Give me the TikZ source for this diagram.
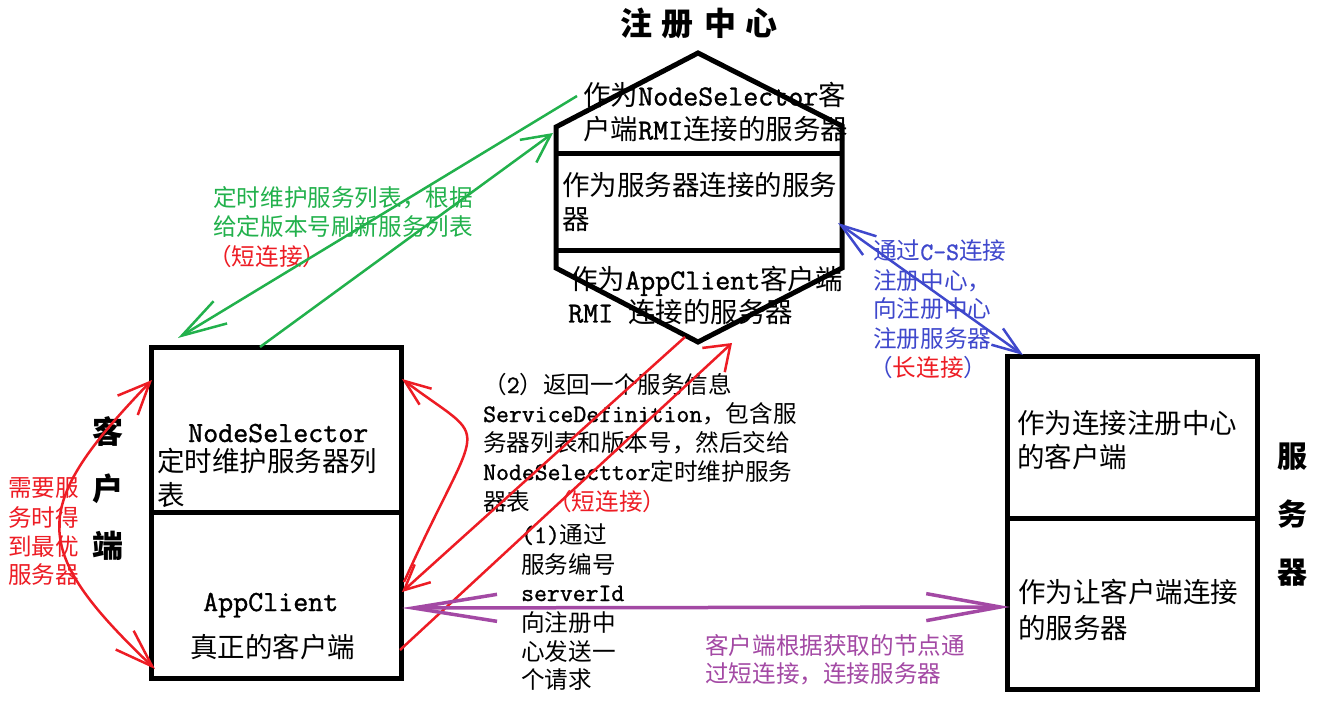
\documentclass[tikz,border=0pt]{standalone}
\usepackage{fontspec}
\setmainfont{Noto Sans CJK SC}
\newfontfamily\lat{Latin Modern Mono}[Scale=1.06,FakeBold=1.2]
\usetikzlibrary{arrows.meta}
\definecolor{pgreen}{HTML}{22B14C}
\definecolor{pred}{HTML}{ED1C24}
\definecolor{pblue}{HTML}{3F48CC}
\definecolor{ppurple}{HTML}{A349A4}
\begin{document}
\begin{tikzpicture}[x=1pt,y=-1pt,
  frame/.style={line width=5pt},
  bigtxt/.style={font=\fontsize{27.5}{33}\selectfont, inner sep=0pt, anchor=base west},
  smalltxt/.style={font=\fontsize{23.6}{29}\selectfont, inner sep=0pt, anchor=base west},
  headtxt/.style={font=\fontsize{32}{57}\selectfont\bfseries, inner sep=0pt, align=center},
  conn/.style={line width=2.5pt},
  wideconn/.style={line width=3.5pt}
]
\useasboundingbox (0,0) rectangle (1317,703);

% ---------- registry hexagon ----------
\coordinate (hT) at (698,53);
\coordinate (hUR) at (842,126);
\coordinate (hLR) at (842,268);
\coordinate (hB) at (698,342);
\coordinate (hLL) at (556,268);
\coordinate (hUL) at (556,127);
\coordinate (hd1l) at (556,154);
\coordinate (hd1r) at (844,154);
\coordinate (hd2l) at (556,251);
\coordinate (hd2r) at (844,251);
\draw[frame] (hT) -- (hUR) -- (hLR) -- (hB) -- (hLL) -- (hUL) -- cycle;
\draw[frame] (hd1l) -- (hd1r);
\draw[frame] (hd2l) -- (hd2r);

\node[headtxt] (title) at (699,23) {注\hspace{10pt}册\hspace{10pt}中\hspace{10pt}心};

\node[bigtxt] (h1) at (583,105.5) {作为{\lat NodeSelector}客};
\node[bigtxt] (h2) at (583,139.5) {户端{\lat RMI}连接的服务器};
\node[bigtxt] (h3) at (562,195.5) {作为服务器连接的服务};
\node[bigtxt] (h4) at (562,229.5) {器};
\node[bigtxt] (h5) at (570,289.5) {作为{\lat AppClient}客户端};
\node[bigtxt] (h6) at (568,322.5) {{\lat RMI }连接的服务器};

% ---------- client box ----------
\coordinate (lTL) at (151,347);
\coordinate (lBR) at (401,678);
\coordinate (ldl) at (151,512);
\coordinate (ldr) at (404,512);
\draw[frame] (lTL) rectangle (lBR);
\draw[frame] (ldl) -- (ldr);
\node[headtxt, font=\fontsize{31}{57}\selectfont\bfseries] (clientlabel) at (108,489) {客\\户\\端};
\node[bigtxt] (l1) at (188,442) {\lat NodeSelector};
\node[bigtxt] (l2) at (157,471.5) {定时维护服务器列};
\node[bigtxt] (l3) at (157,505.5) {表};
\node[bigtxt] (l4) at (203,611) {\lat AppClient};
\node[bigtxt] (l5) at (190,657.5) {真正的客户端};

% ---------- server box ----------
\coordinate (rTL) at (1007,356);
\coordinate (rBR) at (1257,689);
\coordinate (rdl) at (1007,518);
\coordinate (rdr) at (1260,518);
\draw[frame] (rTL) rectangle (rBR);
\draw[frame] (rdl) -- (rdr);
\node[headtxt, font=\fontsize{30}{58}\selectfont\bfseries] (serverlabel) at (1292,515) {服\\务\\器};
\node[bigtxt] (r1) at (1017,433.5) {作为连接注册中心};
\node[bigtxt] (r2) at (1017,467.5) {的客户端};
\node[bigtxt] (r3) at (1018,602.5) {作为让客户端连接};
\node[bigtxt] (r4) at (1018,638.5) {的服务器};

% ---------- green label ----------
\node[smalltxt, text=pgreen] (g1) at (213,207) {定时维护服务列表，根据};
\node[smalltxt, text=pgreen] (g2) at (213,236) {给定版本号刷新服务列表};
\node[smalltxt, text=pred] (g3) at (208,266) {（短连接）};

% ---------- blue label ----------
\node[smalltxt, text=pblue] (b1) at (873,260) {通过{\lat C-S}连接};
\node[smalltxt, text=pblue] (b2) at (873,290) {注册中心，};
\node[smalltxt, text=pblue] (b3) at (873,318) {向注册中心};
\node[smalltxt, text=pblue] (b4) at (873,347) {注册服务器};
\node[smalltxt, text=pred] (b5) at (869,376) {{\color{pblue}（}长连接{\color{pblue}）}};

% ---------- middle labels ----------
\node[smalltxt] (m1) at (483,393) {（{\lat 2}）返回一个服务信息};
\node[smalltxt] (m2) at (483,422) {{\lat ServiceDefinition}，包含服};
\node[smalltxt] (m3) at (483,451) {务器列表和版本号，然后交给};
\node[smalltxt] (m4) at (483,480) {{\lat NodeSelecttor}定时维护服务};
\node[smalltxt] (m5) at (483,510) {器表};
\node[smalltxt, text=pred] (m6) at (548,510) {（短连接）};

\node[smalltxt] (n1) at (521,543) {{\lat (1)}通过};
\node[smalltxt] (n2) at (521,573) {服务编号};
\node[smalltxt] (n3) at (521,601) {\lat serverId};
\node[smalltxt] (n4) at (521,631) {向注册中};
\node[smalltxt] (n5) at (521,660) {心发送一};
\node[smalltxt] (n6) at (521,688) {个请求};

% ---------- red left label ----------
\node[smalltxt, text=pred] (e1) at (8,496) {需要服};
\node[smalltxt, text=pred] (e2) at (8,526) {务时得};
\node[smalltxt, text=pred] (e3) at (8,555) {到最优};
\node[smalltxt, text=pred] (e4) at (8,583) {服务器};

% ---------- purple label ----------
\node[smalltxt, text=ppurple] (p1) at (705,654) {客户端根据获取的节点通};
\node[smalltxt, text=ppurple] (p2) at (705,682) {过短连接，连接服务器};

% ---------- connectors ----------
\coordinate (gA1) at (577,96);
\coordinate (gA2) at (178,338);
\coordinate (gB1) at (260,347);
\coordinate (gB2) at (553,133);
\draw[conn, pgreen, -{Straight Barb[length=45pt,width=26pt]}] (gA1) -- (gA2);
\draw[conn, pgreen, -{Straight Barb[length=28pt,width=28pt]}] (gB1) -- (gB2);

\coordinate (c1a) at (152,380);
\coordinate (c1b) at (155,669);
\draw[conn, pred, {Straight Barb[length=32pt,width=28pt]}-{Straight Barb[length=38pt,width=26pt]}]
  (c1a) .. controls (30,507) and (28,548) .. (c1b);

\coordinate (c2a) at (404,582);
\coordinate (c2b) at (402,379);
\draw[conn, pred, -{Straight Barb[length=26pt,width=20pt]}]
  (c2a) .. controls (482,409) and (494,448) .. (c2b);

\coordinate (r1a) at (685,337);
\coordinate (r1b) at (402,592);
\draw[conn, pred, -{Straight Barb[length=25pt,width=24pt]}] (r1a) -- (r1b);

\coordinate (r2a) at (400,650);
\coordinate (r2b) at (732,343);
\draw[conn, pred, -{Straight Barb[length=23pt,width=33pt]}] (r2a) -- (r2b);

\coordinate (pA) at (402,608);
\coordinate (pB) at (1010,607);
\draw[wideconn, ppurple, {Straight Barb[length=84pt,width=27pt]}-{Straight Barb[length=74pt,width=27pt]}] (pA) -- (pB);

\coordinate (bA) at (838,223);
\coordinate (bB) at (1023,355);
\draw[conn, pblue, {Straight Barb[length=35pt,width=23pt]}-{Straight Barb[length=28pt,width=20pt]}] (bA) -- (bB);
\end{tikzpicture}
\end{document}
